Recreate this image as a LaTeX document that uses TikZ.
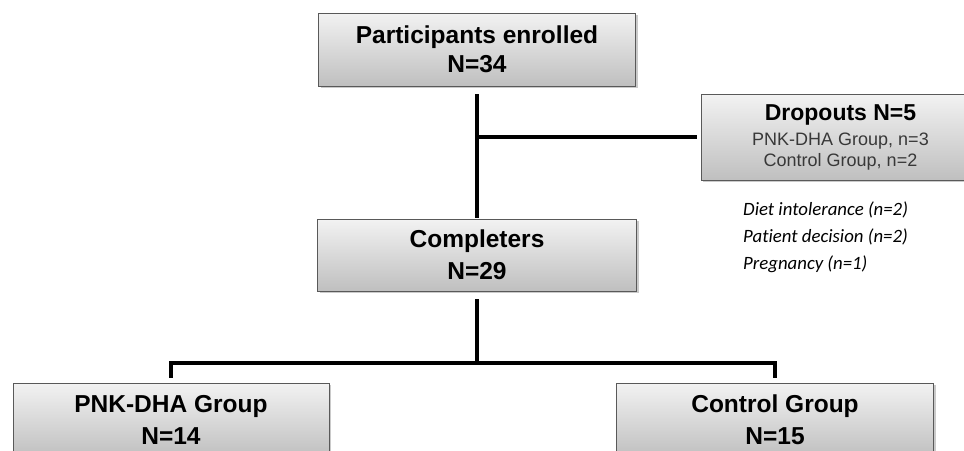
\documentclass[tikz,border=0pt]{standalone}
\usepackage{fontspec}
\setmainfont{Liberation Sans}
\newfontfamily\cali[Ligatures=NoCommon]{Carlito}
\usetikzlibrary{shadows}
\tikzset{
  box/.style={draw=black!65, line width=0.9pt, rectangle, top color=black!5, bottom color=black!25,
    drop shadow={shadow xshift=2pt, shadow yshift=-2pt, opacity=0.35, fill=black!60},
    align=center, inner sep=0pt},
  conn/.style={draw=black, line width=3.1pt},
  title/.style={font=\bfseries\fontsize{24.5}{32}\selectfont}
}
\begin{document}
\begin{tikzpicture}[x=1pt,y=-1pt]
\useasboundingbox (0,0) rectangle (964,450);
\clip (0,0) rectangle (964,450);
\node[box, minimum width=317pt, minimum height=73pt,
  font=\bfseries\fontsize{24.5}{29}\selectfont] (enr) at (477,49.5) {Participants enrolled\\N=34};
\node[box, title, minimum width=319pt, minimum height=72pt] (comp) at (477,255) {Completers\\N=29};
\node[box, minimum width=279pt, minimum height=86pt,
  font=\fontsize{18}{21}\selectfont, text=black!78] (drop) at (840.5,137)
  {{\color{black}\bfseries\fontsize{23}{24}\selectfont Dropouts N=5}\\[4pt]PNK-DHA Group, n=3\\Control Group, n=2};
\node[anchor=north west, align=left, inner sep=0pt, font=\cali\itshape\fontsize{18.8}{26.8}\selectfont]
  (why) at (743,202) {Diet intolerance (n=2)\\Patient decision (n=2)\\Pregnancy (n=1)};
\node[box, title, minimum width=316pt, minimum height=74pt] (pnk) at (171,420) {PNK-DHA Group\\N=14};
\node[box, title, minimum width=317pt, minimum height=74pt] (ctl) at (775,420) {Control Group\\N=15};
\coordinate (j) at (477,363);
\draw[conn, shorten <=8pt, shorten >=1pt] (enr.south) -- (comp.north);
\draw[conn, shorten >=4pt] (enr.south |- drop.west) -- (drop.west);
\draw[conn, shorten <=8pt] (comp.south) -- (j);
\draw[conn, shorten <=5pt, shorten >=5pt] (pnk.north) -- (pnk.north |- j) -- (ctl.north |- j) -- (ctl.north);
\end{tikzpicture}
\end{document}
